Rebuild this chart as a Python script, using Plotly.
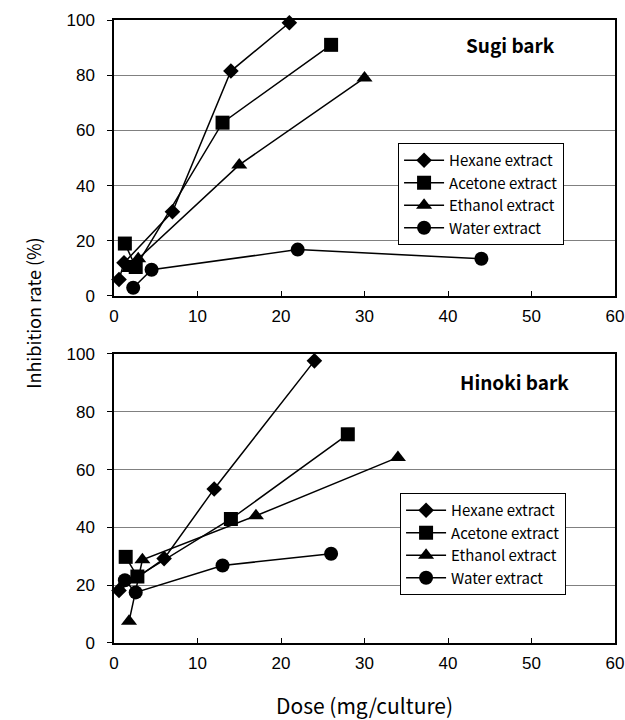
import plotly.graph_objects as go
from plotly.subplots import make_subplots

series_names = ["Hexane extract", "Acetone extract", "Ethanol extract", "Water extract"]
symbols = ["diamond", "square", "triangle-up", "circle"]
marker_sizes = [12, 14, 14, 14]

# Sugi bark (top panel)
sugi_hexane_x = [0.6, 1.2, 7.0, 14.0, 21.0]
sugi_hexane_y = [6.0, 12.0, 30.5, 81.5, 99.0]
sugi_acetone_x = [1.3, 2.6, 13.0, 26.0]
sugi_acetone_y = [19.0, 10.5, 62.8, 91.0]
sugi_ethanol_x = [1.8, 2.9, 15.0, 30.0]
sugi_ethanol_y = [10.0, 13.5, 47.5, 79.0]
sugi_water_x = [2.3, 4.5, 22.0, 44.0]
sugi_water_y = [3.0, 9.5, 16.8, 13.5]

# Hinoki bark (bottom panel)
hinoki_hexane_x = [0.6, 6.0, 12.0, 24.0]
hinoki_hexane_y = [18.2, 29.2, 53.3, 97.6]
hinoki_acetone_x = [1.4, 2.8, 14.0, 28.0]
hinoki_acetone_y = [29.8, 23.0, 42.9, 72.2]
hinoki_ethanol_x = [1.8, 3.4, 17.0, 34.0]
hinoki_ethanol_y = [7.5, 28.8, 44.0, 64.2]
hinoki_water_x = [1.3, 2.6, 13.0, 26.0]
hinoki_water_y = [21.7, 17.5, 26.8, 30.9]

x_ticks = [0, 10, 20, 30, 40, 50, 60]
y_ticks = [0, 20, 40, 60, 80, 100]

top_data = [(sugi_hexane_x, sugi_hexane_y), (sugi_acetone_x, sugi_acetone_y),
            (sugi_ethanol_x, sugi_ethanol_y), (sugi_water_x, sugi_water_y)]
bot_data = [(hinoki_hexane_x, hinoki_hexane_y), (hinoki_acetone_x, hinoki_acetone_y),
            (hinoki_ethanol_x, hinoki_ethanol_y), (hinoki_water_x, hinoki_water_y)]

fig = make_subplots(rows=2, cols=1)

JP = "Noto Sans CJK JP"
AR = "Liberation Sans, Arial"

for i, (xs, ys) in enumerate(top_data):
    fig.add_trace(go.Scatter(x=xs, y=ys, mode="lines+markers", name=series_names[i],
                             line=dict(color="black", width=1.5),
                             marker=dict(symbol=symbols[i], size=marker_sizes[i], color="black"),
                             cliponaxis=False, legend="legend"), row=1, col=1)
for i, (xs, ys) in enumerate(bot_data):
    fig.add_trace(go.Scatter(x=xs, y=ys, mode="lines+markers", name=series_names[i],
                             line=dict(color="black", width=1.5),
                             marker=dict(symbol=symbols[i], size=marker_sizes[i], color="black"),
                             cliponaxis=False, legend="legend2"), row=2, col=1)

axis_common_x = dict(range=[0, 60], tickvals=x_ticks, showgrid=False, zeroline=False,
                     showline=True, linecolor="black", linewidth=1.5, mirror=True,
                     ticks="inside", ticklen=5, tickcolor="black", ticklabelstandoff=4,
                     automargin=False, ticklabeloverflow="allow",
                     tickfont=dict(family=AR, size=17, color="black"))
axis_common_y = dict(range=[0, 100], tickvals=y_ticks, showgrid=True, gridcolor="#808080",
                     gridwidth=1, zeroline=False, showline=True, linecolor="black",
                     linewidth=1.5, mirror=True, ticks="outside", ticklen=5, tickcolor="black",
                     ticklabelstandoff=9, automargin=False,
                     tickfont=dict(family=AR, size=17, color="black"))

fig.update_xaxes(**axis_common_x)
fig.update_yaxes(**axis_common_y)
fig.update_xaxes(title=dict(text="Dose (mg/culture)", font=dict(family=JP, size=21, color="black"),
                            standoff=28), row=2, col=1)

legend_common = dict(xanchor="left", yanchor="top", bgcolor="white",
                     bordercolor="black", borderwidth=1, itemwidth=40,
                     font=dict(family=JP, size=15, color="black"), tracegroupgap=0)

fig.update_layout(
    width=625, height=720,
    margin=dict(l=114, r=10, t=20, b=77),
    paper_bgcolor="white", plot_bgcolor="white",
    hovermode=False,
    xaxis=dict(domain=[0, 1]), yaxis=dict(domain=[0.557, 1.0]),
    xaxis2=dict(domain=[0, 1]), yaxis2=dict(domain=[0.0, 0.464]),
    legend=dict(x=0.567, y=0.8026, **legend_common),
    legend2=dict(x=0.571, y=0.2408, **legend_common),
    annotations=[
        dict(text="<b>Sugi bark</b>", x=47.5, y=91, xref="x", yref="y", showarrow=False,
             font=dict(family=JP, size=19, color="black")),
        dict(text="<b>Hinoki bark</b>", x=48, y=90.5, xref="x2", yref="y2", showarrow=False,
             font=dict(family=JP, size=19, color="black")),
        dict(text="Inhibition rate (%)", x=-0.1916, y=0.530, xref="paper", yref="paper",
             textangle=-90, showarrow=False, font=dict(family=JP, size=18, color="black")),
    ],
)

fig.write_html("out.html", config={"displayModeBar": False},
               post_script="document.body.style.margin='0';document.body.style.overflow='hidden';")
